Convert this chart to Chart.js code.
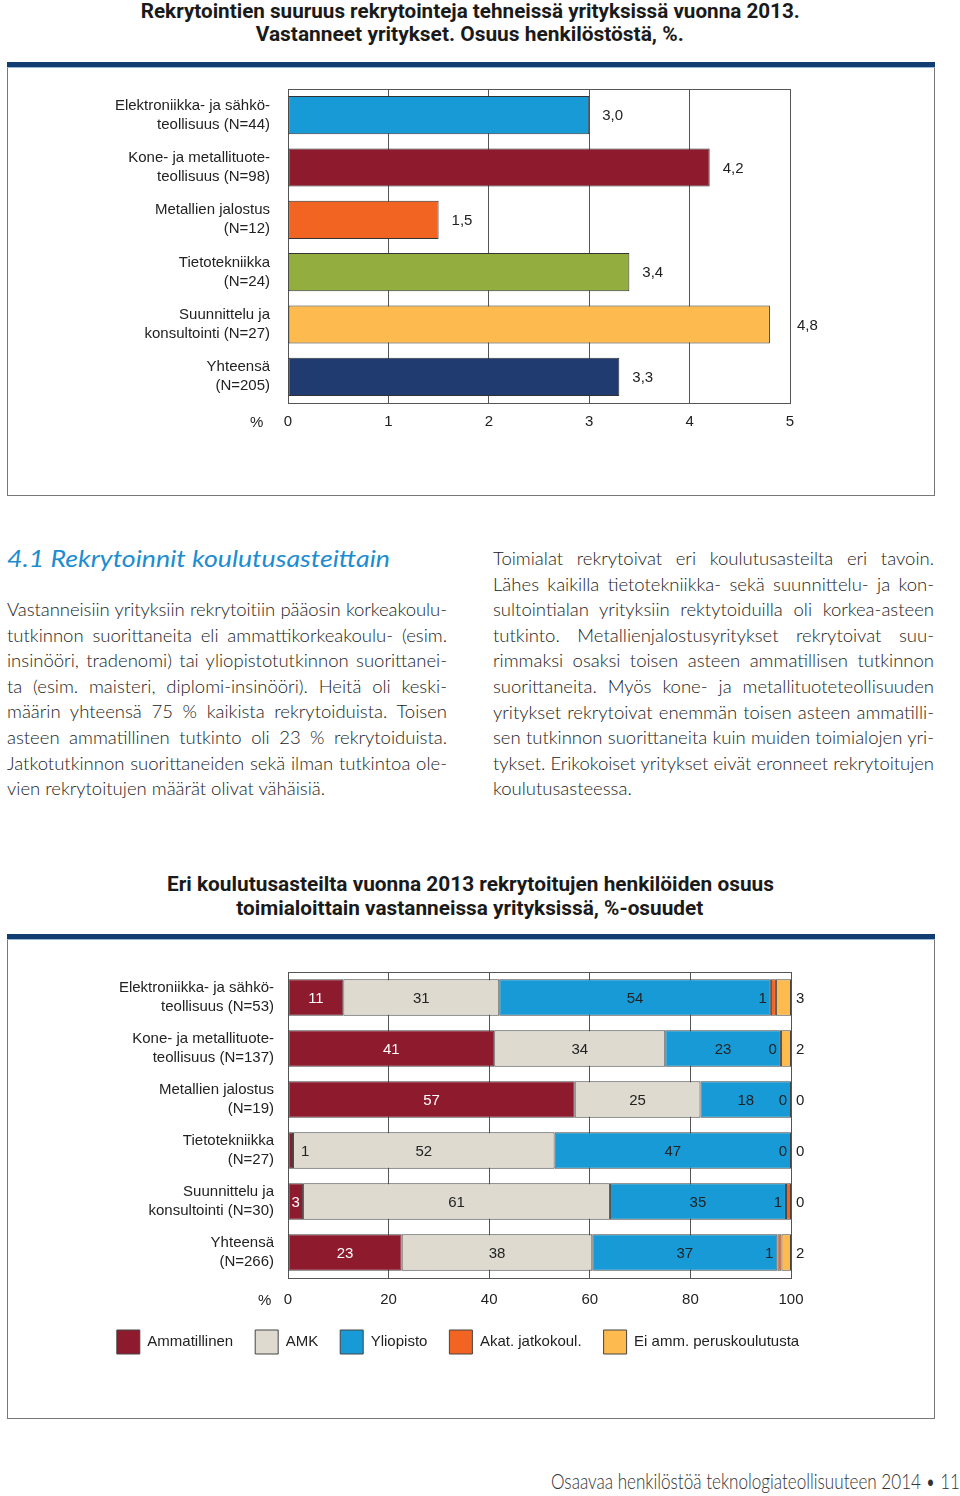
<!DOCTYPE html>
<html lang="fi">
<head>
<meta charset="utf-8">
<title>Rekrytoinnit 2013</title>
<script src="https://cdn.jsdelivr.net/npm/chart.js@4.4.1/dist/chart.umd.min.js"></script>
<style>
  html, body { margin: 0; padding: 0; background: #fff; }
  body { width: 960px; height: 1496px; position: relative; overflow: hidden; font-family: "Liberation Sans", Arial, sans-serif; color: #222; }
  .abs { position: absolute; }
  .title { left: 0; width: 940px; text-align: center; font-family: Roboto, sans-serif; font-weight: 700; font-size: 20px; color: #1a1a1a; }
  .title span { display: inline-block; white-space: nowrap; }
  .frame { left: 7px; width: 926px; border: 1px solid #777; border-top: none; }
  .band { position: absolute; left: -1px; right: -1px; top: 0; height: 5px; background: #123d70; border-bottom: 1px solid #9ab8da; }
  canvas { position: absolute; }
  .pct { font-size: 15px; line-height: 18px; }
  .heading { left: 7px; top: 542px; font-family: Lato, sans-serif; font-style: italic; font-size: 24px; line-height: 32px; color: #1d8dcf; white-space: nowrap; }
  .col { position: absolute; font-family: Lato, sans-serif; font-weight: 300; font-size: 18.5px; line-height: 25.6px; color: #222; }
  .col .ln { white-space: nowrap; text-align: justify; text-align-last: justify; overflow: hidden; }
  .col .ln.last { text-align-last: left; }
  .footer { left: 551px; top: 1467px; font-family: Lato, sans-serif; font-weight: 300; font-size: 22px; line-height: 28px; color: #333; white-space: nowrap; }
</style>
</head>
<body>

<div class="abs title" style="top:0; line-height:23px;">
  <span class="fit" data-w="659">Rekrytointien suuruus rekrytointeja tehneissä yrityksissä vuonna 2013.</span><br>
  <span class="fit" data-w="428">Vastanneet yritykset. Osuus henkilöstöstä, %.</span>
</div>

<div class="abs frame" style="top:62px; height:433px;"><div class="band"></div></div>
<canvas id="sizeChart" width="925" height="426" style="left:8px; top:68px;"></canvas>
<div class="abs pct" style="left:250px; top:413px;">%</div>

<div class="abs heading"><span class="fit" data-w="383" data-o="left">4.1 Rekrytoinnit koulutusasteittain</span></div>

<div class="col" style="left:7px; top:597px; width:440px;">
  <div class="ln">Vastanneisiin yrityksiin rekrytoitiin pääosin korkeakoulu-</div>
  <div class="ln">tutkinnon suorittaneita eli ammattikorkeakoulu- (esim.</div>
  <div class="ln">insinööri, tradenomi) tai yliopistotutkinnon suorittanei-</div>
  <div class="ln">ta (esim. maisteri, diplomi-insinööri). Heitä oli keski-</div>
  <div class="ln">määrin yhteensä 75 % kaikista rekrytoiduista. Toisen</div>
  <div class="ln">asteen ammatillinen tutkinto oli 23 % rekrytoiduista.</div>
  <div class="ln">Jatkotutkinnon suorittaneiden sekä ilman tutkintoa ole-</div>
  <div class="ln last">vien rekrytoitujen määrät olivat vähäisiä.</div>
</div>

<div class="col" style="left:493px; top:546px; width:441px;">
  <div class="ln">Toimialat rekrytoivat eri koulutusasteilta eri tavoin.</div>
  <div class="ln">Lähes kaikilla tietotekniikka- sekä suunnittelu- ja kon-</div>
  <div class="ln">sultointialan yrityksiin rektytoiduilla oli korkea-asteen</div>
  <div class="ln">tutkinto. Metallienjalostusyritykset rekrytoivat suu-</div>
  <div class="ln">rimmaksi osaksi toisen asteen ammatillisen tutkinnon</div>
  <div class="ln">suorittaneita. Myös kone- ja metallituoteteollisuuden</div>
  <div class="ln">yritykset rekrytoivat enemmän toisen asteen ammatilli-</div>
  <div class="ln">sen tutkinnon suorittaneita kuin muiden toimialojen yri-</div>
  <div class="ln">tykset. Erikokoiset yritykset eivät eronneet rekrytoitujen</div>
  <div class="ln last">koulutusasteessa.</div>
</div>

<div class="abs title" style="top:872px; line-height:24px;">
  <span class="fit" data-w="607">Eri koulutusasteilta vuonna 2013 rekrytoitujen henkilöiden osuus</span><br>
  <span class="fit" data-w="467">toimialoittain vastanneissa yrityksissä, %-osuudet</span>
</div>

<div class="abs frame" style="top:934px; height:484px;"><div class="band"></div></div>
<canvas id="levelChart" width="925" height="477" style="left:8px; top:940px;"></canvas>
<div class="abs pct" style="left:258px; top:1291px;">%</div>

<div class="abs footer"><span class="fit" data-w="409" data-o="left">Osaavaa henkilöstöä teknologiateollisuuteen 2014 • 11</span></div>

<script>
// --- data: recruitment size by sector (% of staff)
const sectors1 = [
  ["Elektroniikka- ja sähkö-", "teollisuus (N=44)"],
  ["Kone- ja metallituote-", "teollisuus (N=98)"],
  ["Metallien jalostus", "(N=12)"],
  ["Tietotekniikka", "(N=24)"],
  ["Suunnittelu ja", "konsultointi (N=27)"],
  ["Yhteensä", "(N=205)"]
];
const recruitShare = [3.0, 4.2, 1.5, 3.4, 4.8, 3.3];
const sectorColors = ["#179ad6", "#8e1a2d", "#f26422", "#93ae3f", "#fdba4f", "#1f3b70"];
const ticks1 = [0, 1, 2, 3, 4, 5];

// --- data: education level of recruits by sector (%)
const sectors2 = [
  ["Elektroniikka- ja sähkö-", "teollisuus (N=53)"],
  ["Kone- ja metallituote-", "teollisuus (N=137)"],
  ["Metallien jalostus", "(N=19)"],
  ["Tietotekniikka", "(N=27)"],
  ["Suunnittelu ja", "konsultointi (N=30)"],
  ["Yhteensä", "(N=266)"]
];
const levels = ["Ammatillinen", "AMK", "Yliopisto", "Akat. jatkokoul.", "Ei amm. peruskoulutusta"];
const ammatillinen = [11, 41, 57, 1, 3, 22.6];
const amk = [31, 34, 25, 52, 61, 37.9];
const yliopisto = [54, 23, 18, 47, 35, 36.8];
const jatkokoul = [1, 0, 0, 0, 1, 0.8];
const eiAmm = [3, 2, 0, 0, 0, 1.9];
const levelColors = ["#8e1a2d", "#dedad0", "#179ad6", "#f26422", "#fdba4f"];
const ticks2 = [0, 20, 40, 60, 80, 100];

Chart.defaults.font.family = '"Liberation Sans", Arial, sans-serif';
Chart.defaults.font.size = 15;
Chart.defaults.color = "#222";

const LABEL_FONT = '15px "Liberation Sans", Arial, sans-serif';

// top edge of the plot frame
const plotTop = {
  id: "plotTop",
  beforeDatasetsDraw(chart) {
    const { ctx, chartArea: a } = chart;
    ctx.save();
    ctx.strokeStyle = "#555";
    ctx.lineWidth = 1;
    ctx.beginPath();
    ctx.moveTo(a.left, Math.round(a.top) + 0.5);
    ctx.lineTo(a.right, Math.round(a.top) + 0.5);
    ctx.stroke();
    ctx.restore();
  }
};

// value labels after bar ends, comma decimals
const endLabels = {
  id: "endLabels",
  afterDatasetsDraw(chart) {
    const { ctx, chartArea: a } = chart;
    const ds = chart.data.datasets[0];
    ctx.save();
    ctx.font = LABEL_FONT;
    ctx.fillStyle = "#222";
    ctx.textAlign = "left";
    ctx.textBaseline = "middle";
    chart.getDatasetMeta(0).data.forEach((bar, i) => {
      const txt = ds.data[i].toFixed(1).replace(".", ",");
      let x = bar.x + 13;
      if (x + ctx.measureText(txt).width > a.right) x = a.right + 7;
      ctx.fillText(txt, x, bar.y + 1);
    });
    ctx.restore();
  }
};

// labels inside the stacked segments
const stackLabels = {
  id: "stackLabels",
  afterDatasetsDraw(chart) {
    const { ctx, chartArea: a } = chart;
    ctx.save();
    ctx.font = LABEL_FONT;
    ctx.textBaseline = "middle";
    chart.data.datasets.forEach((ds, i) => {
      chart.getDatasetMeta(i).data.forEach((bar, j) => {
        const txt = String(Math.round(ds.data[j]));
        const left = Math.min(bar.x, bar.base);
        const right = Math.max(bar.x, bar.base);
        let x = (left + right) / 2;
        let align = "center";
        let color = "#222";
        if (i === 0) {
          if (right - left > 10) color = "#fff";
          else { x = right + 8; align = "left"; }
        } else if (i === 3) {
          x = left - 4; align = "right";
        } else if (i === 4) {
          x = a.right + 5; align = "left";
        }
        ctx.fillStyle = color;
        ctx.textAlign = align;
        ctx.fillText(txt, x, bar.y + 1);
      });
    });
    ctx.restore();
  }
};

// fixed axis box, no extra room for label overhang
function fixWidth(w) {
  return (s) => { s.width = w; s.paddingTop = 0; s.paddingBottom = 0; };
}

new Chart(document.getElementById("sizeChart"), {
  type: "bar",
  data: {
    labels: sectors1,
    datasets: [{
      data: recruitShare,
      backgroundColor: sectorColors,
      borderColor: "#333",
      borderWidth: 1,
      borderSkipped: false,
      barPercentage: 0.73,
      categoryPercentage: 1
    }]
  },
  options: {
    indexAxis: "y",
    responsive: false,
    animation: false,
    layout: { padding: { top: 21, right: 143, bottom: 51, left: 0 } },
    scales: {
      x: {
        min: 0, max: 5,
        afterBuildTicks: (s) => { s.ticks = ticks1.map(v => ({ value: v })); },
        grid: { color: "#555", drawTicks: false },
        border: { color: "#555" },
        ticks: { padding: 10, color: "#222" },
        afterFit: (s) => { s.height = 40; }
      },
      y: {
        grid: { display: false, drawTicks: false },
        border: { color: "#555" },
        ticks: { padding: 18, color: "#222", font: { lineHeight: 1.27 } },
        afterFit: fixWidth(280)
      }
    },
    plugins: { legend: { display: false }, tooltip: { enabled: false } }
  },
  plugins: [plotTop, endLabels]
});

const levelSeries = [ammatillinen, amk, yliopisto, jatkokoul, eiAmm];

new Chart(document.getElementById("levelChart"), {
  type: "bar",
  data: {
    labels: sectors2,
    datasets: levelSeries.map((vals, i) => ({
      label: levels[i],
      data: vals,
      backgroundColor: levelColors[i],
      borderColor: "#444",
      borderWidth: 1,
      borderSkipped: false,
      barPercentage: 0.72,
      categoryPercentage: 1
    }))
  },
  options: {
    indexAxis: "y",
    responsive: false,
    animation: false,
    layout: { padding: { top: 32, right: 25, bottom: 53, left: 0 } },
    scales: {
      x: {
        stacked: true,
        min: 0, max: 100,
        afterBuildTicks: (s) => { s.ticks = ticks2.map(v => ({ value: v })); },
        grid: { color: "#555", drawTicks: false },
        border: { color: "#555" },
        ticks: { padding: 13, color: "#222" },
        afterFit: (s) => { s.height = 30; }
      },
      y: {
        stacked: true,
        grid: { display: false, drawTicks: false },
        border: { color: "#555" },
        ticks: { padding: 14, color: "#222", font: { lineHeight: 1.27 } },
        afterFit: fixWidth(280)
      },
      // empty strip on the right, keeps the legend centred under the frame
      yRight: {
        type: "category",
        position: "right",
        grid: { display: false, drawTicks: false },
        border: { display: false },
        ticks: { display: false },
        afterFit: fixWidth(117)
      }
    },
    plugins: {
      legend: {
        position: "bottom",
        labels: { boxWidth: 23, boxHeight: 24, padding: 22, color: "#222", font: { size: 15 } }
      },
      tooltip: { enabled: false }
    }
  },
  plugins: [plotTop, stackLabels]
});

// squeeze text to the widths of the printed page
function fitTexts() {
  document.querySelectorAll(".fit").forEach(el => {
    el.style.display = "inline-block";
    el.style.transform = "none";
    const w = el.getBoundingClientRect().width;
    el.style.transformOrigin = el.dataset.o || "center";
    el.style.transform = "scaleX(" + (Number(el.dataset.w) / w) + ")";
  });
  document.querySelectorAll(".col .ln").forEach(ln => {
    ln.style.letterSpacing = "0px";
    const over = ln.scrollWidth - ln.clientWidth;
    if (over > 0) ln.style.letterSpacing = (-(over + 1) / ln.textContent.length) + "px";
  });
}
fitTexts();
if (document.fonts) document.fonts.ready.then(fitTexts);
</script>
</body>
</html>
